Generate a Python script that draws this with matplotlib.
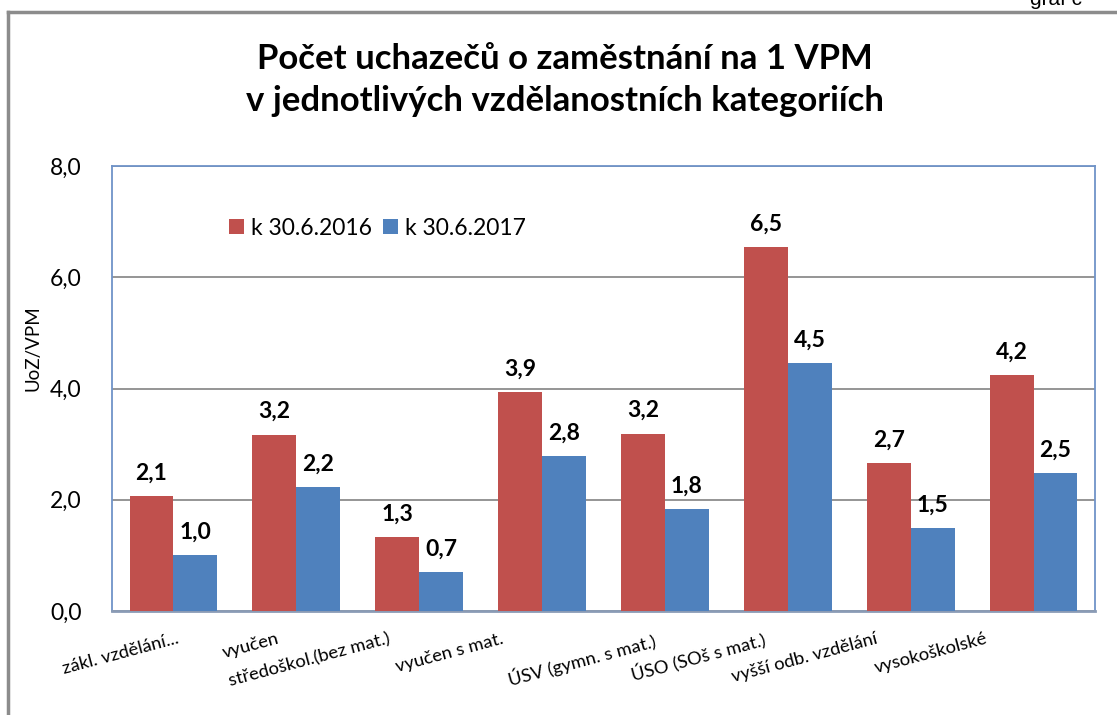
import matplotlib.pyplot as plt
import matplotlib.transforms as mtransforms
import numpy as np

categories = ["zákl. vzdělání...", "vyučen", "středoškol.(bez mat.)", "vyučen s mat.",
              "ÚSV (gymn. s mat.)", "ÚSO (SOš s mat.)", "vyšší odb. vzdělání", "vysokoškolské"]
values_2016 = [2.06, 3.17, 1.33, 3.94, 3.19, 6.54, 2.66, 4.24]
values_2017 = [1.00, 2.23, 0.70, 2.79, 1.83, 4.46, 1.49, 2.48]
series_labels = ["k 30.6.2016", "k 30.6.2017"]
y_ticks = [0, 2, 4, 6, 8]

plt.rcParams["font.family"] = ["Lato", "DejaVu Sans"]

fig = plt.figure(figsize=(11.17, 7.15), dpi=100)
ax = fig.add_axes([112 / 1117, 1 - 611 / 715, 983 / 1117, 445 / 715])

x = np.arange(len(categories))
w = 1 / 2.8
red = "#C0504D"
blue = "#4F81BD"
b1 = ax.bar(x - w / 2, values_2016, w, color=red, label=series_labels[0], zorder=3)
b2 = ax.bar(x + w / 2, values_2017, w, color=blue, label=series_labels[1], zorder=3)

for bars in (b1, b2):
    for rect in bars:
        h = rect.get_height()
        ax.annotate(f"{h:.1f}".replace(".", ","), (rect.get_x() + rect.get_width() / 2, h),
                    xytext=(0, 9), textcoords="offset points", ha="center", va="bottom",
                    fontsize=16.5, fontweight="bold")

ax.set_xlim(-0.5, len(categories) - 0.5)
ax.set_ylim(0, 8)
ax.set_yticks(y_ticks)
ax.set_yticklabels([f"{t:.1f}".replace(".", ",") for t in y_ticks], fontsize=16.5)
ax.tick_params(axis="y", length=0, pad=22)
ax.grid(axis="y", color="#8C8C8C", linewidth=1.3, zorder=0)
ax.set_ylabel("UoZ/VPM", fontsize=13.5)
ax.yaxis.set_label_coords(-0.072, 0.59)

ax.set_xticks(x)
ax.set_xticklabels(categories, rotation=15, ha="right", rotation_mode="anchor", fontsize=13.2)
ax.tick_params(axis="x", length=0, pad=14)
# Excel shifts the rotated labels unevenly to the left of their category
label_shift_px = [3, -20, -31, -41, -12, -25, -36, -49]
for lab, dx in zip(ax.get_xticklabels(), label_shift_px):
    offset = mtransforms.ScaledTranslation(dx / 100, 0, fig.dpi_scale_trans)
    lab.set_transform(lab.get_transform() + offset)

for side in ["left", "right", "top"]:
    ax.spines[side].set_color("#6F93C8")
    ax.spines[side].set_linewidth(1.3)
ax.spines["bottom"].set_color("#8A9BB5")
ax.spines["bottom"].set_linewidth(2)

ax.legend(loc="upper left", bbox_to_anchor=(0.098, 0.93), ncol=2, frameon=False, fontsize=16.5,
          handlelength=0.65, handleheight=0.65, handletextpad=0.3, columnspacing=0.5)

fig.suptitle("Počet uchazečů o zaměstnání na 1 VPM\nv jednotlivých vzdělanostních kategoriích",
             x=0.506, y=0.94, fontsize=25, fontweight="bold", linespacing=1.4)

# outer frame of the chart
fig.add_artist(plt.Line2D([8 / 1117, 8 / 1117], [0, 1 - 12 / 715], transform=fig.transFigure,
                          color="#8C8C8C", linewidth=2.5))
fig.add_artist(plt.Line2D([8 / 1117, 1], [1 - 12 / 715, 1 - 12 / 715], transform=fig.transFigure,
                          color="#8C8C8C", linewidth=2.5))
fig.text(1030 / 1117, 1 - 5 / 715, "graf č", fontsize=15, family="Liberation Sans", va="baseline")

fig.savefig("out.png", dpi=100)
